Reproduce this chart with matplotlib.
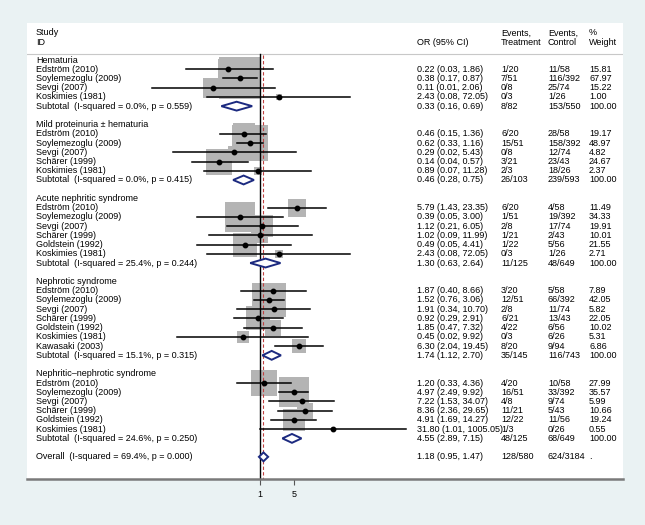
import numpy as np
import matplotlib.pyplot as plt
import matplotlib.transforms as mtransforms
from matplotlib.patches import Polygon
from matplotlib.ticker import NullLocator

plt.rcParams['font.family'] = ['Liberation Sans', 'DejaVu Sans']

groups = ['Hematuria', 'Mild proteinuria \u00b1 hematuria', 'Acute nephritic syndrome',
          'Nephrotic syndrome', 'Nephritic\u2013nephrotic syndrome']
group_sizes = [4, 5, 6, 7, 6]

studies = ['Edstr\u00f6m (2010)', 'Soylemezoglu (2009)', 'Sevgi (2007)', 'Koskimies (1981)',
           'Edstr\u00f6m (2010)', 'Soylemezoglu (2009)', 'Sevgi (2007)', 'Sch\u00e4rer (1999)', 'Koskimies (1981)',
           'Edstr\u00f6m (2010)', 'Soylemezoglu (2009)', 'Sevgi (2007)', 'Sch\u00e4rer (1999)', 'Goldstein (1992)',
           'Koskimies (1981)',
           'Edstr\u00f6m (2010)', 'Soylemezoglu (2009)', 'Sevgi (2007)', 'Sch\u00e4rer (1999)', 'Goldstein (1992)',
           'Koskimies (1981)', 'Kawasaki (2003)',
           'Edstr\u00f6m (2010)', 'Soylemezoglu (2009)', 'Sevgi (2007)', 'Sch\u00e4rer (1999)', 'Goldstein (1992)',
           'Koskimies (1981)']
est = [0.22, 0.38, 0.11, 2.43,
       0.46, 0.62, 0.29, 0.14, 0.89,
       5.79, 0.39, 1.12, 1.02, 0.49, 2.43,
       1.87, 1.52, 1.91, 0.92, 1.85, 0.45, 6.30,
       1.20, 4.97, 7.22, 8.36, 4.91, 31.80]
lo = [0.03, 0.17, 0.006, 0.08,
      0.15, 0.33, 0.016, 0.04, 0.07,
      1.43, 0.05, 0.21, 0.09, 0.05, 0.08,
      0.40, 0.76, 0.34, 0.29, 0.47, 0.02, 2.04,
      0.33, 2.49, 1.53, 2.36, 1.69, 1.01]
hi = [1.86, 0.87, 2.06, 72.05,
      1.36, 1.16, 5.43, 0.57, 11.28,
      23.35, 3.00, 6.05, 11.99, 4.41, 72.05,
      8.66, 3.06, 10.70, 2.91, 7.32, 9.92, 19.45,
      4.36, 9.92, 34.07, 29.65, 14.27, 1005.05]
ev_trt = ['1/20', '7/51', '0/8', '0/3',
          '6/20', '15/51', '0/8', '3/21', '2/3',
          '6/20', '1/51', '2/8', '1/21', '1/22', '0/3',
          '3/20', '12/51', '2/8', '6/21', '4/22', '0/3', '8/20',
          '4/20', '16/51', '4/8', '11/21', '12/22', '1/3']
ev_ctl = ['11/58', '116/392', '25/74', '1/26',
          '28/58', '158/392', '12/74', '23/43', '18/26',
          '4/58', '19/392', '17/74', '2/43', '5/56', '1/26',
          '5/58', '66/392', '11/74', '13/43', '6/56', '6/26', '9/94',
          '10/58', '33/392', '9/74', '5/43', '11/56', '0/26']
weight = [15.81, 67.97, 15.22, 1.00,
          19.17, 48.97, 4.82, 24.67, 2.37,
          11.49, 34.33, 19.91, 10.01, 21.55, 2.71,
          7.89, 42.05, 5.82, 22.05, 10.02, 5.31, 6.86,
          27.99, 35.57, 5.99, 10.66, 19.24, 0.55]

sub_i2 = [0.0, 0.0, 25.4, 15.1, 24.6]
sub_p = [0.559, 0.415, 0.244, 0.315, 0.250]
sub_est = [0.33, 0.46, 1.30, 1.74, 4.55]
sub_lo = [0.16, 0.28, 0.63, 1.12, 2.89]
sub_hi = [0.69, 0.75, 2.64, 2.70, 7.15]
sub_trt = ['8/82', '26/103', '11/125', '35/145', '48/125']
sub_ctl = ['153/550', '239/593', '48/649', '116/743', '68/649']

overall_i2 = 69.4
overall_p = 0.000
overall_est = 1.18
overall_lo = 0.95
overall_hi = 1.47
overall_trt = '128/580'
overall_ctl = '624/3184'

FS = 6.5
BG = '#eaf2f3'
BOX = '#b4b4b4'
NAVY = '#1c2a80'

fig = plt.figure(figsize=(6.45, 5.25), dpi=100, facecolor=BG)
ax = fig.add_axes([27 / 645, 46 / 525, 596 / 645, 456 / 525])
ax.set_facecolor('white')
ax.set_xscale('log')
ax.set_xlim(np.exp(-233 / 21.1), np.exp(363 / 21.1))
ax.set_ylim(45.4, -4.01)

# text columns: x in figure, y in rows
tr = mtransforms.blended_transform_factory(fig.transFigure, ax.transData)
col_x = [36 / 645, 417 / 645, 501 / 645, 548 / 645, 589 / 645]


def row_text(r, cells):
    for x, s in zip(col_x, cells):
        if s:
            fig.text(x, r, s, transform=tr, fontsize=FS, va='center', ha='left')


def diamond(r, e, l, h):
    d = 0.48
    ax.add_patch(Polygon([(l, r), (e, r - d), (h, r), (e, r + d)], closed=True,
                         facecolor='white', edgecolor=NAVY, lw=1.4, zorder=4))


# header
fig.text(col_x[0], -2.93, 'Study', transform=tr, fontsize=FS, va='center')
fig.text(col_x[0], -1.95, 'ID', transform=tr, fontsize=FS, va='center')
fig.text(col_x[1], -1.95, 'OR (95% CI)', transform=tr, fontsize=FS, va='center')
fig.text(col_x[2], -2.93, 'Events,', transform=tr, fontsize=FS, va='center')
fig.text(col_x[2], -1.95, 'Treatment', transform=tr, fontsize=FS, va='center')
fig.text(col_x[3], -2.93, 'Events,', transform=tr, fontsize=FS, va='center')
fig.text(col_x[3], -1.95, 'Control', transform=tr, fontsize=FS, va='center')
fig.text(col_x[4], -2.93, '%', transform=tr, fontsize=FS, va='center')
fig.text(col_x[4], -1.95, 'Weight', transform=tr, fontsize=FS, va='center')
ax.axhline(-0.65, color='#c8c8c8', lw=0.8)

row = 0
k = 0
for g, n in enumerate(group_sizes):
    row_text(row, [groups[g]])
    row += 1
    for i in range(n):
        side = 5.1 * np.sqrt(weight[k]) * 0.72
        ax.scatter(est[k], row, s=side ** 2, marker='s', color=BOX, lw=0, zorder=1)
        ax.plot([lo[k], hi[k]], [row, row], color='black', lw=1.1, zorder=3)
        ax.plot(est[k], row, 'o', ms=3.2, color='black', zorder=3)
        row_text(row, [studies[k], f'{est[k]:.2f} ({lo[k]:.2f}, {hi[k]:.2f})',
                       ev_trt[k], ev_ctl[k], f'{weight[k]:.2f}'])
        row += 1
        k += 1
    diamond(row, sub_est[g], sub_lo[g], sub_hi[g])
    row_text(row, [f'Subtotal  (I-squared = {sub_i2[g]:.1f}%, p = {sub_p[g]:.3f})',
                   f'{sub_est[g]:.2f} ({sub_lo[g]:.2f}, {sub_hi[g]:.2f})',
                   sub_trt[g], sub_ctl[g], '100.00'])
    row += 2

diamond(row, overall_est, overall_lo, overall_hi)
row_text(row, [f'Overall  (I-squared = {overall_i2:.1f}%, p = {overall_p:.3f})',
               f'{overall_est:.2f} ({overall_lo:.2f}, {overall_hi:.2f})',
               overall_trt, overall_ctl, '.'])

# reference lines
ax.plot([1, 1], [-0.65, 45.4], color='black', lw=1.0, zorder=2)
ax.plot([overall_est, overall_est], [-0.5, 45.4], color='#c04040', lw=0.8,
        ls=(0, (3, 2)), zorder=2)

for s in ['top', 'right', 'left']:
    ax.spines[s].set_visible(False)
ax.spines['bottom'].set_color('#7a7a7a')
ax.spines['bottom'].set_linewidth(1.8)
ax.set_yticks([])
ax.set_xticks([1, 5])
ax.set_xticklabels(['1', '5'])
ax.xaxis.set_minor_locator(NullLocator())
ax.tick_params(axis='x', length=4, width=0.8, color='#555555', labelsize=FS, pad=4)

fig.savefig('out.png', dpi=100, facecolor=BG)
